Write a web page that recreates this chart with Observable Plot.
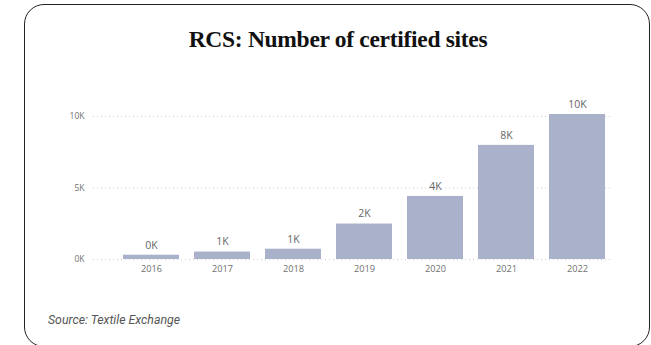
<!DOCTYPE html>
<html>
<head>
<meta charset="utf-8">
<script src="https://cdn.jsdelivr.net/npm/d3@7"></script>
<script src="https://cdn.jsdelivr.net/npm/@observablehq/plot@0.6"></script>
<style>
  html, body { margin: 0; padding: 0; background: #fff; }
  body { width: 651px; height: 345px; position: relative; overflow: hidden; }
  #card { position: absolute; left: 24px; top: 4px; width: 624px; height: 341px;
          border: 1.5px solid #222; border-radius: 20px; box-sizing: content-box; }
  #title { position: absolute; left: 24px; width: 628px; top: 28px; text-align: center;
           font: 700 23.5px/1 "Liberation Serif", "Times New Roman", serif; color: #111; letter-spacing: -0.3px; }
  #chart { position: absolute; left: 0; top: 90px; }
  #source { position: absolute; left: 48px; top: 314px; font: italic 12.3px/1 Roboto, sans-serif; color: #555; }
</style>
</head>
<body>
<div id="card"></div>
<div id="title">RCS: Number of certified sites</div>
<div id="chart"></div>
<div id="source">Source: Textile Exchange</div>
<script>
const years = ["2016", "2017", "2018", "2019", "2020", "2021", "2022"];
const sites = [300, 520, 720, 2480, 4410, 7980, 10140];
const yTicks = [0, 5000, 10000];
const yTickLabels = ["0K", "5K", "10K"];

const data = years.map((year, i) => ({year, sites: sites[i]}));

const chart = Plot.plot({
  width: 651,
  height: 195,
  marginTop: 26,
  marginBottom: 26,
  marginLeft: 93,
  marginRight: 38,
  style: {fontFamily: "'Open Sans', sans-serif", background: "transparent", overflow: "visible"},
  x: {domain: years, paddingInner: 0.215, paddingOuter: 0.2525, align: 0.78, label: null},
  y: {domain: [0, 10000], label: null},
  marks: [
    Plot.ruleY(yTicks, {stroke: "#cfcfcf", strokeWidth: 1, strokeDasharray: "1,3"}),
    Plot.barY(data, {x: "year", y: "sites", fill: "#aab1cb"}),
    Plot.text(data, {x: "year", y: "sites", text: d => Math.round(d.sites / 1000) + "K",
      dy: -10, fontSize: 10.5, fill: "#666"}),
    Plot.axisX({tickSize: 0, tickPadding: 6, fontSize: 9.2, color: "#707070", label: null}),
    Plot.axisY({ticks: yTicks, tickSize: 0, tickPadding: 9, fontSize: 8.5, color: "#707070",
      tickFormat: d => yTickLabels[yTicks.indexOf(d)], label: null})
  ]
});
document.getElementById("chart").appendChild(chart);
</script>
</body>
</html>
